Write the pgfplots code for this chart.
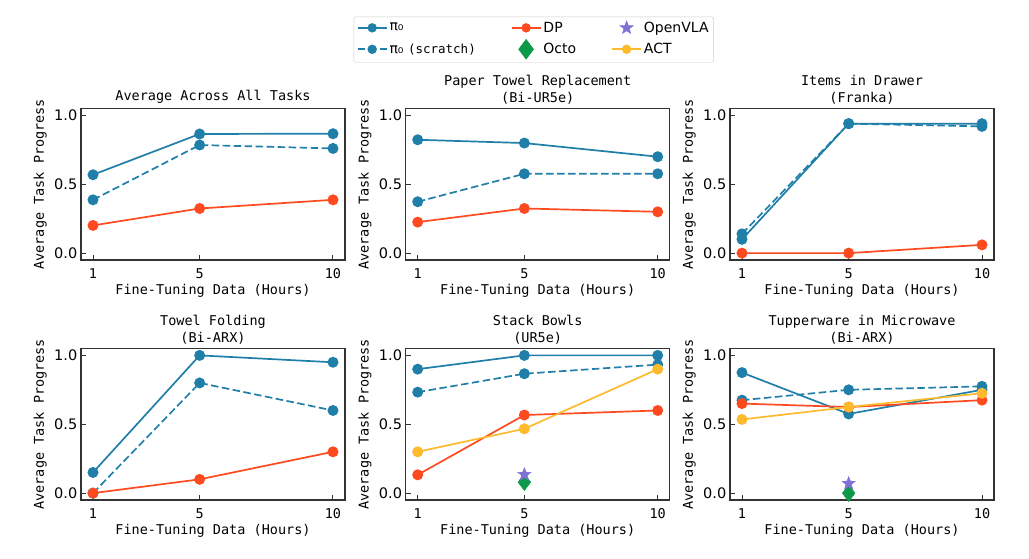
\documentclass[border=0pt]{standalone}
\usepackage{fontspec}
\setmainfont{DejaVu Sans Mono}
\setmonofont{DejaVu Sans Mono}
\newfontfamily\sansf{DejaVu Sans}
\usepackage{pgfplots}
\pgfplotsset{compat=1.18}
\usetikzlibrary{plotmarks}

\definecolor{piblue}{HTML}{1F7FA8}
\definecolor{dpred}{HTML}{FF4A1F}
\definecolor{actyel}{HTML}{FDBA2C}
\definecolor{octogreen}{HTML}{0C9A4A}
\definecolor{vlapurple}{HTML}{7F72D6}
\definecolor{framegray}{HTML}{333333}

\pgfdeclareplotmark{fstar}{%
  \pgfpathmoveto{\pgfpointpolar{90}{\pgfplotmarksize}}%
  \pgfpathlineto{\pgfpointpolar{126}{0.42*\pgfplotmarksize}}%
  \pgfpathlineto{\pgfpointpolar{162}{\pgfplotmarksize}}%
  \pgfpathlineto{\pgfpointpolar{198}{0.42*\pgfplotmarksize}}%
  \pgfpathlineto{\pgfpointpolar{234}{\pgfplotmarksize}}%
  \pgfpathlineto{\pgfpointpolar{270}{0.42*\pgfplotmarksize}}%
  \pgfpathlineto{\pgfpointpolar{306}{\pgfplotmarksize}}%
  \pgfpathlineto{\pgfpointpolar{342}{0.42*\pgfplotmarksize}}%
  \pgfpathlineto{\pgfpointpolar{18}{\pgfplotmarksize}}%
  \pgfpathlineto{\pgfpointpolar{54}{0.42*\pgfplotmarksize}}%
  \pgfpathclose
  \pgfusepathqfillstroke}

\pgfplotsset{
  panel/.style={
    scale only axis, width=264pt, height=151.5pt,
    xmin=0.55, xmax=10.45, ymin=-0.05, ymax=1.05,
    xtick={1,5,10}, ytick={0,0.5,1},
    /pgf/number format/assume math mode=true,
    yticklabel style={/pgf/number format/fixed, /pgf/number format/fixed zerofill,
      /pgf/number format/precision=1, font=\sansf\fontsize{14.5}{16}\selectfont,
      anchor=east, inner sep=0pt, xshift=-3.5pt},
    xticklabel style={font=\fontsize{13.5}{16}\selectfont, anchor=north, inner sep=0pt, yshift=-8pt},
    tick align=inside, tick pos=left,
    major tick length=5pt,
    every tick/.style={framegray, line width=1pt},
    axis line style={framegray, line width=1.2pt},
    title style={at={(0.5,1)}, anchor=south, inner sep=0pt, yshift=-1.5pt, align=center,
      font=\fontsize{13.5}{16.7}\selectfont},
    xlabel={Fine-Tuning Data (Hours)},
    ylabel={Average Task Progress},
    xlabel style={at={(axis description cs:0.5,0)}, anchor=north, inner sep=0pt, yshift=-24pt,
      font=\fontsize{13.5}{16}\selectfont},
    ylabel style={at={(axis description cs:0,0.5)}, anchor=south, inner sep=0pt, yshift=34pt,
      font=\fontsize{13.5}{16}\selectfont},
    legend image code/.code={\draw[mark repeat=2,mark phase=2,##1] plot coordinates {(0pt,0pt) (14.5pt,0pt) (29pt,0pt)};},
  },
  pi/.style={color=piblue, line width=1.7pt, mark=*, mark size=4.6pt, mark options={solid}, forget plot},
  pis/.style={pi, dash pattern=on 7.5pt off 3.5pt},
  dp/.style={color=dpred, line width=1.7pt, mark=*, mark size=4.6pt, mark options={solid}, forget plot},
  act/.style={color=actyel, line width=1.7pt, mark=*, mark size=4.6pt, mark options={solid}, forget plot},
  octo/.style={only marks, mark=diamond*, mark size=8.5pt, color=octogreen, mark options={fill=octogreen, draw=octogreen}, forget plot},
  vla/.style={only marks, mark=fstar, mark size=7pt, color=vlapurple, mark options={fill=vlapurple, draw=vlapurple}, forget plot},
}

\begin{document}
\begin{tikzpicture}
\useasboundingbox (0,0) rectangle (1029pt,558pt);

% Top left
\begin{axis}[panel, at={(81pt,298pt)}, anchor=south west, title={Average Across All Tasks}]
\addplot[pi] coordinates {(1,0.569) (5,0.865) (10,0.867)};
\addplot[pis] coordinates {(1,0.387) (5,0.785) (10,0.760)};
\addplot[dp] coordinates {(1,0.201) (5,0.324) (10,0.387)};
\end{axis}

% Top middle (with legend)
\begin{axis}[panel, at={(405.7pt,298pt)}, anchor=south west, title={Paper Towel Replacement\\(Bi-UR5e)},
  legend columns=3,
  legend style={at={(0.485,1.606)}, anchor=north, draw=black!20, rounded corners=2pt, fill=white,
    font=\sansf\fontsize{14}{16}\selectfont, row sep=3.5pt, inner ysep=3pt,
    /tikz/every even column/.append style={column sep=33pt}},
  legend cell align=left]
\addplot[pi] coordinates {(1,0.823) (5,0.799) (10,0.700)};
\addplot[pis] coordinates {(1,0.373) (5,0.576) (10,0.576)};
\addplot[dp] coordinates {(1,0.225) (5,0.324) (10,0.300)};
\addlegendimage{color=piblue, line width=1.7pt, mark=*, mark size=3.8pt}
\addlegendentry{π₀}
\addlegendimage{color=dpred, line width=1.7pt, mark=*, mark size=3.8pt}
\addlegendentry{DP}
\addlegendimage{only marks, color=vlapurple, mark=fstar, mark size=7pt, mark options={fill=vlapurple, draw=vlapurple}}
\addlegendentry{OpenVLA}
\addlegendimage{color=piblue, line width=1.7pt, mark=*, mark size=3.8pt, dash pattern=on 7.5pt off 3.5pt, mark options={solid}}
\addlegendentry{π₀ {\ttfamily\fontsize{12.5}{16}\selectfont (scratch)}}
\addlegendimage{only marks, color=octogreen, mark=diamond*, mark size=10pt, mark options={fill=octogreen, draw=octogreen}}
\addlegendentry{Octo}
\addlegendimage{color=actyel, line width=1.7pt, mark=*, mark size=3.8pt}
\addlegendentry{ACT}
\end{axis}

% Top right
\begin{axis}[panel, at={(730pt,298pt)}, anchor=south west, title={Items in Drawer\\(Franka)}]
\addplot[pi] coordinates {(1,0.10) (5,0.94) (10,0.94)};
\addplot[pis] coordinates {(1,0.14) (5,0.94) (10,0.92)};
\addplot[dp] coordinates {(1,0.0) (5,0.0) (10,0.06)};
\end{axis}

% Bottom left
\begin{axis}[panel, at={(81pt,58pt)}, anchor=south west, title={Towel Folding\\(Bi-ARX)}]
\addplot[pi] coordinates {(1,0.15) (5,1.0) (10,0.95)};
\addplot[pis] coordinates {(1,0.0) (5,0.80) (10,0.60)};
\addplot[dp] coordinates {(1,0.0) (5,0.10) (10,0.30)};
\end{axis}

% Bottom middle
\begin{axis}[panel, at={(405.7pt,58pt)}, anchor=south west, title={Stack Bowls\\(UR5e)}]
\addplot[pi] coordinates {(1,0.90) (5,1.0) (10,1.0)};
\addplot[pis] coordinates {(1,0.733) (5,0.867) (10,0.933)};
\addplot[dp] coordinates {(1,0.133) (5,0.567) (10,0.60)};
\addplot[act] coordinates {(1,0.30) (5,0.467) (10,0.90)};
\addplot[octo] coordinates {(5,0.08)};
\addplot[vla] coordinates {(5,0.135)};
\end{axis}

% Bottom right
\begin{axis}[panel, at={(730pt,58pt)}, anchor=south west, title={Tupperware in Microwave\\(Bi-ARX)}]
\addplot[pi] coordinates {(1,0.875) (5,0.575) (10,0.75)};
\addplot[pis] coordinates {(1,0.675) (5,0.75) (10,0.775)};
\addplot[dp] coordinates {(1,0.65) (5,0.625) (10,0.675)};
\addplot[act] coordinates {(1,0.535) (5,0.625) (10,0.725)};
\addplot[octo] coordinates {(5,0.0)};
\addplot[vla] coordinates {(5,0.07)};
\end{axis}
\end{tikzpicture}
\end{document}
